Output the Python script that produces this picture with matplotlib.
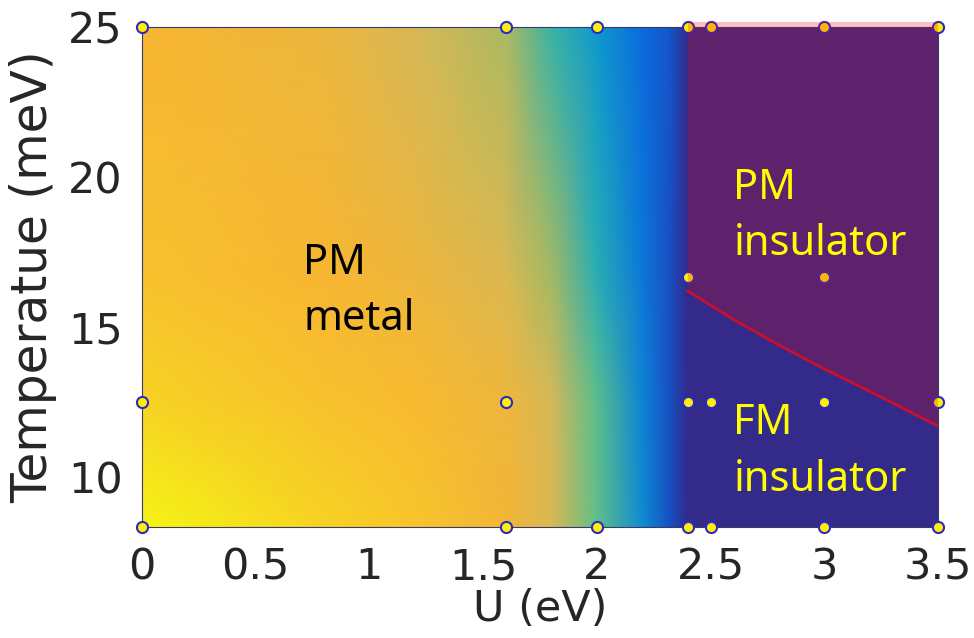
import numpy as np
import matplotlib
matplotlib.use("Agg")
import matplotlib.pyplot as plt
from matplotlib.colors import LinearSegmentedColormap

# grid of the coloured map (0 = dark blue, 1 = yellow)
u_grid = [0, 0.8, 1.2, 1.6, 1.8, 2.0, 2.2, 2.32, 2.4, 2.5, 3.0, 3.5]
t_grid = [25 / 3, 12.5, 50 / 3, 25]
z_grid = [
    [1.00, 0.90, 0.86, 0.80, 0.70, 0.43, 0.22, 0.08, 0.0, 0.0, 0.0, 0.0],  # T = 8.33
    [0.90, 0.85, 0.83, 0.78, 0.68, 0.42, 0.20, 0.08, 0.0, 0.0, 0.0, 0.0],  # T = 12.5
    [0.85, 0.82, 0.78, 0.70, 0.55, 0.33, 0.17, 0.08, 0.0, 0.0, 0.0, 0.0],  # T = 16.67
    [0.82, 0.77, 0.68, 0.57, 0.36, 0.25, 0.14, 0.09, 0.0, 0.0, 0.0, 0.0],  # T = 25
]

# calculated points
pts_u = [0, 1.6, 2, 2.4, 2.5, 3, 3.5,
         2.4, 3,
         0, 1.6, 2.4, 2.5, 3, 3.5,
         0, 1.6, 2, 2.4, 2.5, 3, 3.5]
pts_t = [25] * 7 + [50 / 3] * 2 + [12.5] * 6 + [25 / 3] * 7

# PM / FM boundary
bnd_u = [2.4, 2.6, 2.8, 3.0, 3.2, 3.5]
bnd_t = [16.2, 15.25, 14.4, 13.6, 12.85, 11.7]

xticks = [0, 0.5, 1, 1.5, 2, 2.5, 3, 3.5]
xticklabels = ["0", "0.5", "1", "1.5", "2", "2.5", "3", "3.5"]
yticks = [10, 15, 20, 25]

cmap = LinearSegmentedColormap.from_list("par", [
    (0.00, "#332a8a"),
    (0.12, "#0a64e1"),
    (0.28, "#0fa5c8"),
    (0.42, "#5abe8c"),
    (0.55, "#a5b964"),
    (0.68, "#d6b858"),
    (0.82, "#f8b632"),
    (1.00, "#f5f514"),
])

fig = plt.figure(figsize=(9.74, 6.38), dpi=100)
ax = fig.add_axes([0.1458, 0.174, 0.8172, 0.7837])

U, T = np.meshgrid(u_grid, t_grid)
ax.pcolormesh(U, T, np.array(z_grid), cmap=cmap, vmin=0, vmax=1,
              shading="gouraud", zorder=1)

ax.plot(pts_u, pts_t, "o", ms=8, mfc="#fff000", mec="#2a2ac8", mew=1.5,
        clip_on=False, zorder=3)

# translucent PM insulator region
top = 25.17
poly_u = [2.4] + bnd_u + [3.5, 2.4]
poly_t = [bnd_t[0]] + bnd_t + [top, top]
ax.fill(poly_u, poly_t, color=(223 / 255, 14 / 255, 26 / 255), alpha=0.25,
        lw=0, clip_on=False, zorder=4)
ax.plot(bnd_u, bnd_t, color="#c8102e", lw=2, zorder=5)

ax.text(0.71, 16.2, "PM\nmetal", fontsize=30, color="black",
        family="Noto Sans", linespacing=1.45, va="center", ha="left", zorder=6)
ax.text(2.6, 18.7, "PM\ninsulator", fontsize=30, color="#ffff00",
        family="Noto Sans", linespacing=1.45, va="center", ha="left", zorder=6)
ax.text(2.6, 10.85, "FM\ninsulator", fontsize=30, color="#ffff00",
        family="Noto Sans", linespacing=1.45, va="center", ha="left", zorder=6)

ax.set_xlim(0, 3.5)
ax.set_ylim(25 / 3, 25)
ax.set_xticks(xticks)
ax.set_xticklabels(xticklabels)
ax.set_yticks(yticks)
ax.tick_params(length=0, labelsize=31, labelcolor="#262626")
ax.tick_params(axis="x", pad=14)
ax.tick_params(axis="y", pad=14)
ax.set_xlabel("U (eV)", fontsize=31, color="#262626", labelpad=0)
ax.set_ylabel("Temperatue (meV)", fontsize=35, color="#262626", labelpad=8)
for s in ax.spines.values():
    s.set_color("#3a3a6a")
    s.set_linewidth(0.8)
    s.set_zorder(2)

fig.savefig("out.png", dpi=100)
